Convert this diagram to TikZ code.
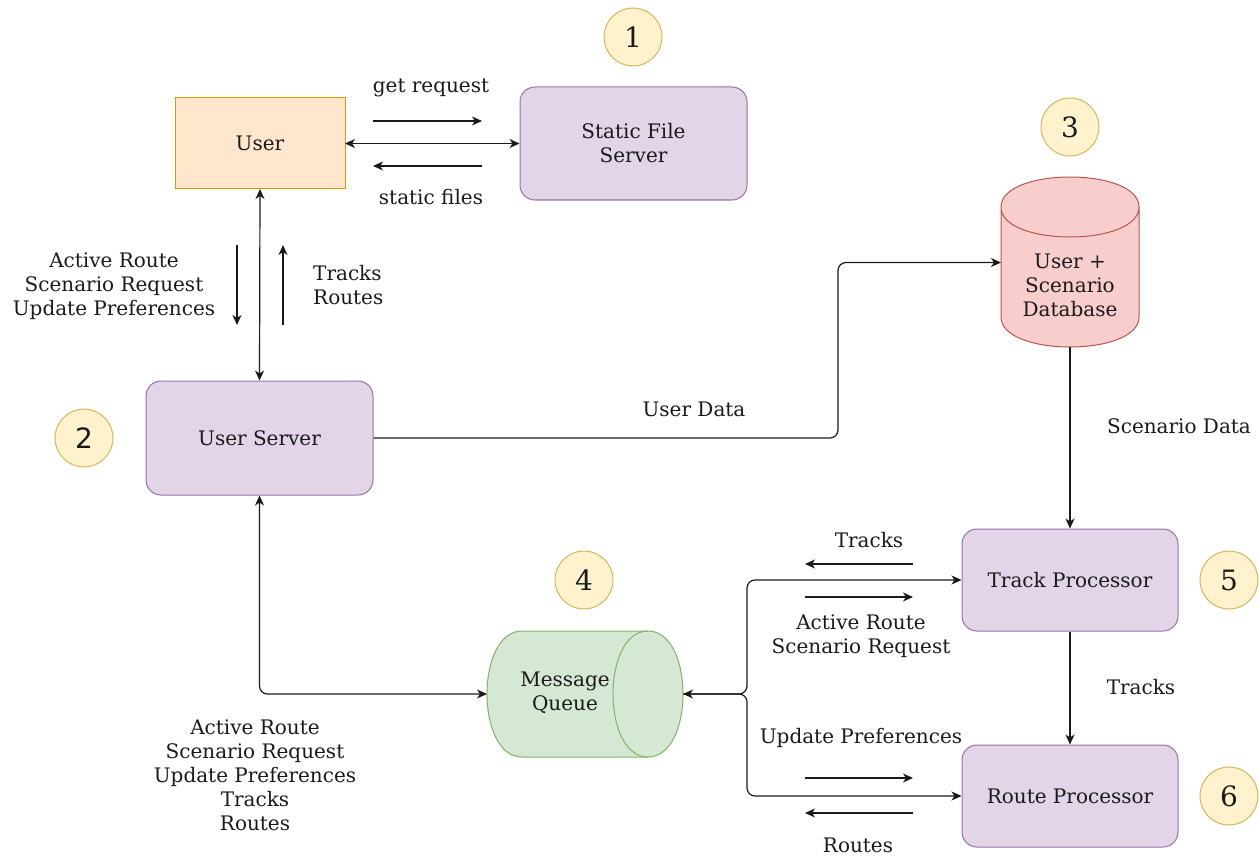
\documentclass[tikz,border=0pt]{standalone}
\usepackage{fontspec}
\setmainfont{DejaVu Serif}
\newfontfamily\numsans{DejaVu Sans}
\usetikzlibrary{arrows.meta,calc}
\definecolor{userfill}{HTML}{FFE6CC}
\definecolor{userdraw}{HTML}{D79B00}
\definecolor{procfill}{HTML}{E1D5E7}
\definecolor{procdraw}{HTML}{9673A6}
\definecolor{dbfill}{HTML}{F8CECC}
\definecolor{dbdraw}{HTML}{B85450}
\definecolor{mqfill}{HTML}{D5E8D4}
\definecolor{mqdraw}{HTML}{82B366}
\definecolor{badgefill}{HTML}{FFF2CC}
\definecolor{badgedraw}{HTML}{D6B656}
\definecolor{ink}{HTML}{1A1A1A}
\tikzset{
  txt/.style={font=\fontsize{20}{24}\selectfont, text=ink, align=center, inner sep=0pt},
  txtl/.style={txt, align=left},
  procbox/.style={draw=procdraw, fill=procfill, line width=1pt, rounded corners=15pt,
    inner sep=0pt, font=\fontsize{20}{24}\selectfont, text=ink, align=center},
  badge/.style={circle, draw=badgedraw, fill=badgefill, line width=1pt,
    minimum size=58pt, inner sep=0pt, font=\fontsize{28}{30}\selectfont, text=ink},
  frame/.style={inner sep=0pt, outer sep=0pt},
  conn/.style={draw=ink, line width=1.2pt, rounded corners=8pt},
}
\begin{document}
\begin{tikzpicture}[x=1pt, y=-1pt, >={Stealth[length=10pt, width=9pt, inset=3pt]}]
\useasboundingbox (0,0) rectangle (1259,856);

% ---- boxes ----
\node[frame, draw=userdraw, fill=userfill, line width=1pt, minimum width=170pt, minimum height=91pt,
  font=\fontsize{20}{24}\selectfont, text=ink] (user) at (260,143.5) {User};
\node[procbox, minimum width=227pt, minimum height=113pt] (sfs) at (633.5,143.5) {Static File\\Server};
\node[procbox, minimum width=227pt, minimum height=114pt] (us) at (259.5,438) {User Server};
\node[procbox, minimum width=216pt, minimum height=102pt] (tp) at (1070,580) {Track Processor};
\node[procbox, minimum width=216pt, minimum height=102pt] (rp) at (1070,796) {Route Processor};

% ---- database cylinder ----
\node[frame, minimum width=138pt, minimum height=169pt] (db) at (1070,262.5) {};
\fill[dbfill] (1001,207) -- (1001,317) .. controls (1001,357) and (1139,357) .. (1139,317)
  -- (1139,207) .. controls (1139,167) and (1001,167) .. (1001,207) -- cycle;
\draw[dbdraw, line width=1pt] (1001,207) -- (1001,317) .. controls (1001,357) and (1139,357) .. (1139,317)
  -- (1139,207) .. controls (1139,167) and (1001,167) .. (1001,207)
  .. controls (1001,247) and (1139,247) .. (1139,207);
\node[txt] (dbtext) at (1070,285) {User +\\Scenario\\Database};

% ---- message queue cylinder ----
\node[frame, minimum width=196pt, minimum height=126pt] (mq) at (585,694) {};
\fill[mqfill] (522,631) -- (648,631) .. controls (694.7,631) and (694.7,757) .. (648,757)
  -- (522,757) .. controls (475.3,757) and (475.3,631) .. (522,631) -- cycle;
\draw[mqdraw, line width=1pt] (522,631) -- (648,631) .. controls (694.7,631) and (694.7,757) .. (648,757)
  -- (522,757) .. controls (475.3,757) and (475.3,631) .. (522,631) -- cycle;
\draw[mqdraw, line width=1pt] (648,631) .. controls (601.3,631) and (601.3,757) .. (648,757);
\node[txt] (mqtext) at (565,693) {Message\\Queue};

% ---- numbered badges ----
\node[badge] (b1) at (633,37) {1};
\node[badge, font=\numsans\fontsize{28}{30}\selectfont] (b2) at (84,438) {2};
\node[badge] (b3) at (1070,127) {3};
\node[badge] (b4) at (584,580) {4};
\node[badge] (b5) at (1229,580) {5};
\node[badge] (b6) at (1229,796) {6};

% ---- connectors ----
\draw[conn, <->] (user.east) -- (sfs.west);
\draw[conn, <->] (user.south) -- (us.north);
\draw[conn, ->] (us.east) -- (838,438) |- (db.west);
\draw[conn, ->] (db.south) -- (tp.north);
\draw[conn, ->] (tp.south) -- (rp.north);
\draw[conn, <->] (us.south) |- (mq.west);
\draw[conn, <->] (mq.east) -- (747,694) |- (tp.west);
\draw[conn, ->] (mq.east) -- (747,694) |- (rp.west);

% ---- direction hints ----
\coordinate (g1) at (373,121); \coordinate (g2) at (482,121);
\coordinate (s1) at (482,166); \coordinate (s2) at (373,166);
\coordinate (d1) at (237,245); \coordinate (d2) at (237,325);
\coordinate (u1) at (283,325); \coordinate (u2) at (283,245);
\coordinate (t1) at (913,564); \coordinate (t2) at (805,564);
\coordinate (a1) at (805,597); \coordinate (a2) at (913,597);
\coordinate (p1) at (805,778); \coordinate (p2) at (913,778);
\coordinate (r1) at (913,813); \coordinate (r2) at (805,813);
\foreach \from/\to in {g1/g2, s1/s2, d1/d2, u1/u2, t1/t2, a1/a2, p1/p2, r1/r2}
  \draw[conn, ->] (\from) -- (\to);

% ---- labels ----
\node[txt] (lget) at (431,88) {get request};
\node[txt] (lstat) at (431,197) {static files};
\node[txt] (lup) at (114,286) {Active Route\\Scenario Request\\Update Preferences};
\node[txtl, anchor=west] (ldown) at (313,285) {Tracks\\Routes};
\node[txt] (luser) at (694,409) {User Data};
\node[txt] (lscen) at (1179,426) {Scenario Data};
\node[txt] (ltr) at (1141,687) {Tracks};
\node[txt] (ltp1) at (869,540) {Tracks};
\node[txt] (ltp2) at (861,636) {Active Route\\Scenario Request};
\node[txt] (lrp1) at (861,738) {Update Preferences};
\node[txt] (lrp2) at (858,845) {Routes};
\node[txt] (lmq) at (255,775) {Active Route\\Scenario Request\\Update Preferences\\Tracks\\Routes};
\end{tikzpicture}
\end{document}
